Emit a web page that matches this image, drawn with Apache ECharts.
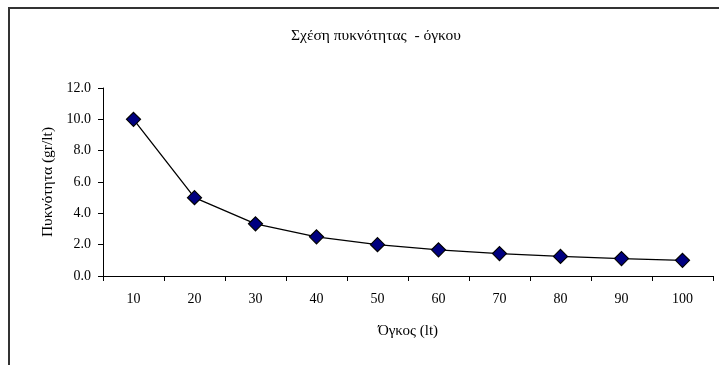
<!DOCTYPE html>
<html><head><meta charset="utf-8">
<script src="https://cdn.jsdelivr.net/npm/echarts@6/dist/echarts.min.js"></script>
<style>html,body{margin:0;padding:0;background:#fff;}#c{width:719px;height:365px;}
#frame{position:absolute;left:8px;top:7px;width:800px;height:400px;border:2px solid #333;box-sizing:border-box;pointer-events:none;}</style>
</head><body>
<div id="c"></div><div id="frame"></div>
<script>
const categories = ['10','20','30','40','50','60','70','80','90','100'];
const density = [10.0, 5.0, 3.33, 2.5, 2.0, 1.67, 1.43, 1.25, 1.11, 1.0];
const titleText = 'Σχέση πυκνότητας  - όγκου';
const xName = 'Όγκος (lt)';
const yName = 'Πυκνότητα (gr/lt)';
const font = '"Liberation Serif", "DejaVu Serif", serif';
const chart = echarts.init(document.getElementById('c'));
chart.setOption({
  animation: false,
  title: { text: titleText, left: 371, top: 23, textAlign: 'center',
    textStyle: { fontFamily: font, fontSize: 15.5, fontWeight: 'normal', color: '#000' } },
  grid: { left: 103, right: 6, top: 88, bottom: 89 },
  xAxis: { type: 'category', data: categories, boundaryGap: true,
    name: xName, nameLocation: 'middle', nameGap: 48,
    nameTextStyle: { fontFamily: font, fontSize: 15, color: '#000' },
    axisLine: { lineStyle: { color: '#000', width: 1 } },
    axisTick: { show: true, length: 5, inside: false, lineStyle: { color: '#000' } },
    axisLabel: { fontFamily: font, fontSize: 14, color: '#000', margin: 16 } },
  yAxis: { type: 'value', min: 0, max: 12, interval: 2,
    name: yName, nameLocation: 'middle', nameGap: 43,
    nameTextStyle: { fontFamily: font, fontSize: 15.5, color: '#000' },
    axisLine: { show: true, lineStyle: { color: '#000', width: 1 } },
    axisTick: { show: true, length: 5, lineStyle: { color: '#000' } },
    splitLine: { show: false },
    axisLabel: { fontFamily: font, fontSize: 14, color: '#000', margin: 12,
      formatter: v => v.toFixed(1) } },
  series: [{ type: 'line', data: density, symbol: 'diamond', symbolSize: 14,
    lineStyle: { color: '#000', width: 1.3 },
    itemStyle: { color: '#000080', borderColor: '#000', borderWidth: 1.2 } }]
});
</script>
</body></html>
